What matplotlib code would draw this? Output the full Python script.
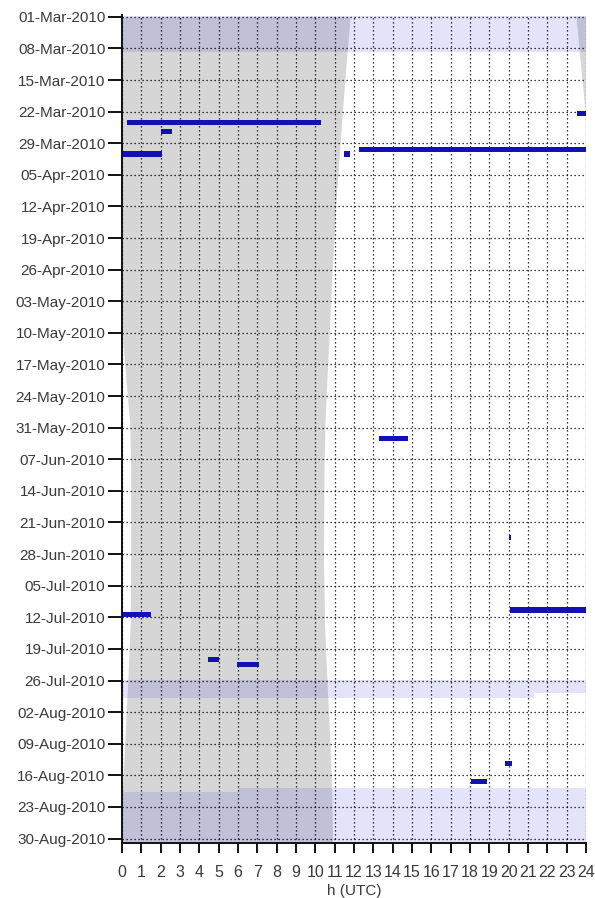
import datetime as dt
import numpy as np
import matplotlib
matplotlib.use("Agg")
import matplotlib.pyplot as plt
import matplotlib.dates as mdates

plt.rcParams['font.family'] = ['Liberation Sans', 'DejaVu Sans']

# ---------------- data ----------------
start = dt.date(2010, 3, 1)

# night boundaries: day offset from 01-Mar-2010, hour (UTC)
night_days = [0, 10, 22, 40, 60, 72, 80, 90, 100, 120, 135, 147, 160, 172, 183]
sunrise_h = [11.8, 11.6, 11.38, 11.08, 10.82, 10.7, 10.6, 10.5, 10.45, 10.42, 10.48, 10.6, 10.75, 10.85, 10.9]
sunset_h = [23.5, 23.72, 24.0, 24.0, 24.02, 24.05, 24.2, 24.4, 24.45, 24.45, 24.42, 24.3, 24.15, 24.02, 23.98]

# shaded periods (start date, start hour, end date, end hour)
band_start = [dt.date(2010, 3, 1), dt.date(2010, 7, 26), dt.date(2010, 8, 19)]
band_start_h = [0.0, 0.0, 6.0]
band_end = [dt.date(2010, 3, 8), dt.date(2010, 7, 29), dt.date(2010, 8, 30)]
band_end_h = [24.0, 21.3, 24.0]

# events (date, start hour, end hour)
ev_date = [dt.date(2010, 3, 22), dt.date(2010, 3, 24), dt.date(2010, 3, 26),
           dt.date(2010, 3, 30), dt.date(2010, 3, 31), dt.date(2010, 3, 31),
           dt.date(2010, 6, 2), dt.date(2010, 6, 24), dt.date(2010, 7, 10),
           dt.date(2010, 7, 11), dt.date(2010, 7, 21), dt.date(2010, 7, 22),
           dt.date(2010, 8, 13), dt.date(2010, 8, 17)]
ev_start = [23.55, 0.25, 2.02, 12.28, 0.0, 11.5, 13.27, 20.02, 20.07, 0.0, 4.47, 5.97, 19.8, 18.04]
ev_end = [24.0, 10.28, 2.57, 24.0, 2.05, 11.8, 14.8, 20.1, 24.0, 1.5, 5.03, 7.09, 20.15, 18.9]

tick_dates = [start + dt.timedelta(days=7 * i) for i in range(27)]
hour_ticks = list(range(0, 25))

# ---------------- figure ----------------
fig = plt.figure(figsize=(5.95, 8.98), dpi=100)
ax = fig.add_axes([0.205, 0.0612, 0.78, 0.9221])

d0 = mdates.date2num(start)
nd = d0 + np.array(night_days, dtype=float)
sr = np.array(sunrise_h)
ss = np.array(sunset_h)
gray = '#d6d6d6'
# night after midnight (left part)
ax.fill_betweenx(nd, np.maximum(ss - 24, 0), sr, color=gray, lw=0, zorder=0.2)
# night before midnight (right part)
ax.fill_betweenx(nd, np.minimum(ss, 24), 24, where=ss < 24, color=gray, lw=0,
                 zorder=0.2, interpolate=True)

off = -0.2
lav = (62 / 255, 62 / 255, 220 / 255)
for bs, bsh, be, beh in zip(band_start, band_start_h, band_end, band_end_h):
    s = mdates.date2num(bs)
    e = mdates.date2num(be)
    segs = []
    if e == s:
        segs.append((s, 1, bsh, beh))
    else:
        segs.append((s, 1, bsh, 24.0))
        if e - s > 1:
            segs.append((s + 1, e - s - 1, 0.0, 24.0))
        segs.append((e, 1, 0.0, beh))
    for y, n, h0, h1 in segs:
        if h1 > h0:
            ax.barh(y + off, h1 - h0, left=h0, height=n, align='edge',
                    color=lav, alpha=0.14, lw=0, zorder=0.3)

ev_y = [mdates.date2num(d) + off for d in ev_date]
ax.barh(ev_y, np.array(ev_end) - np.array(ev_start), left=ev_start, height=1.15,
        align='edge', color='#1212b4', lw=0, zorder=2)

ax.set_xlim(0, 24)
ax.set_ylim(mdates.date2num(dt.date(2010, 8, 31)), d0 - 0.4)
ax.set_xticks(hour_ticks)
ax.set_xticklabels([str(h) for h in hour_ticks])
ax.set_yticks([mdates.date2num(d) for d in tick_dates])
ax.set_yticklabels([d.strftime('%d-%b-%Y') for d in tick_dates])

ax.grid(True, color='black', linestyle=(0, (1, 2.2)), linewidth=0.9)
ax.set_axisbelow(True)
for sp in ['top', 'right']:
    ax.spines[sp].set_visible(False)
for sp in ['left', 'bottom']:
    ax.spines[sp].set_linewidth(1.4)
    ax.spines[sp].set_color('#111111')

ax.tick_params(axis='y', length=10, width=1.4, labelsize=11, pad=2, colors='#111111',
               labelcolor='#3a3a3a')
ax.tick_params(axis='x', length=7, width=1.4, labelsize=11.5, pad=9, colors='#111111',
               labelcolor='#3a3a3a')
ax.set_xlabel('h (UTC)', fontsize=11, color='#3a3a3a', labelpad=3)

fig.savefig('out.png', dpi=100, facecolor='white')
